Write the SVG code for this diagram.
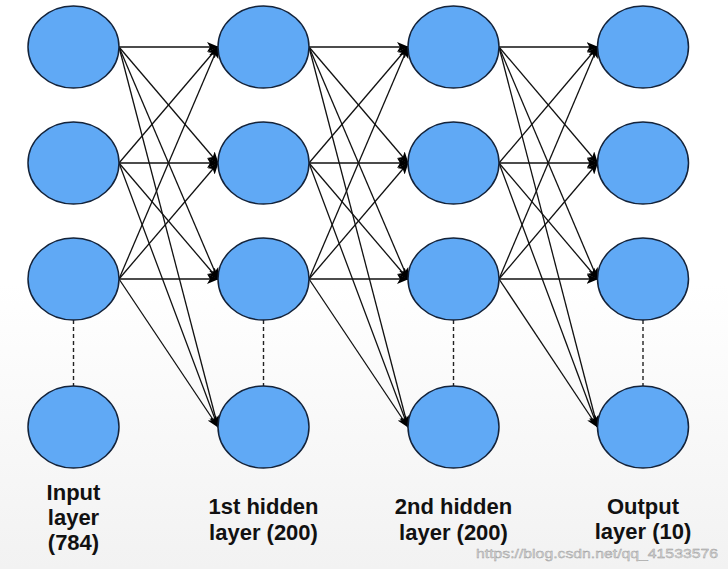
<svg xmlns="http://www.w3.org/2000/svg" width="728" height="569" viewBox="0 0 728 569">
<defs>
<style>
.node{fill:#60a9f5;stroke:#14233a;stroke-width:1.5}
.edge{stroke:#111;stroke-width:1.3;fill:none;marker-end:url(#arr)}
.dash{stroke:#222;stroke-width:1.4;stroke-dasharray:4 3;fill:none}
.lbl{font-family:"Liberation Sans",Arial,sans-serif;font-weight:bold;font-size:22px;fill:#111;text-anchor:middle}
.wm{font-family:"Liberation Sans",Arial,sans-serif;font-size:13.5px;fill:#d8d8d8;stroke:#9a9a9a;stroke-width:0.4}
</style>
<linearGradient id="bg" x1="0" y1="0" x2="0" y2="1">
<stop offset="0.5" stop-color="#ffffff"/>
<stop offset="1" stop-color="#f2f2f2"/>
</linearGradient>
<marker id="arr" markerUnits="userSpaceOnUse" markerWidth="12" markerHeight="10" viewBox="0 0 12 10" refX="11" refY="5" orient="auto">
<path d="M0,0 L12,5 L0,10 L3,5 z" fill="#000"/>
</marker>
</defs>
<rect x="0" y="0" width="728" height="569" fill="url(#bg)"/>
<g id="connectors">
<line class="edge" x1="119" y1="47" x2="218" y2="47"/>
<line class="edge" x1="119" y1="47" x2="218" y2="163"/>
<line class="edge" x1="119" y1="47" x2="218" y2="279"/>
<line class="edge" x1="119" y1="47" x2="218" y2="427"/>
<line class="edge" x1="119" y1="163" x2="218" y2="47"/>
<line class="edge" x1="119" y1="163" x2="218" y2="163"/>
<line class="edge" x1="119" y1="163" x2="218" y2="279"/>
<line class="edge" x1="119" y1="163" x2="218" y2="427"/>
<line class="edge" x1="119" y1="279" x2="218" y2="47"/>
<line class="edge" x1="119" y1="279" x2="218" y2="163"/>
<line class="edge" x1="119" y1="279" x2="218" y2="279"/>
<line class="edge" x1="119" y1="279" x2="218" y2="427"/>
<line class="edge" x1="309" y1="47" x2="408" y2="47"/>
<line class="edge" x1="309" y1="47" x2="408" y2="163"/>
<line class="edge" x1="309" y1="47" x2="408" y2="279"/>
<line class="edge" x1="309" y1="47" x2="408" y2="427"/>
<line class="edge" x1="309" y1="163" x2="408" y2="47"/>
<line class="edge" x1="309" y1="163" x2="408" y2="163"/>
<line class="edge" x1="309" y1="163" x2="408" y2="279"/>
<line class="edge" x1="309" y1="163" x2="408" y2="427"/>
<line class="edge" x1="309" y1="279" x2="408" y2="47"/>
<line class="edge" x1="309" y1="279" x2="408" y2="163"/>
<line class="edge" x1="309" y1="279" x2="408" y2="279"/>
<line class="edge" x1="309" y1="279" x2="408" y2="427"/>
<line class="edge" x1="499" y1="47" x2="597.5" y2="47"/>
<line class="edge" x1="499" y1="47" x2="597.5" y2="163"/>
<line class="edge" x1="499" y1="47" x2="597.5" y2="279"/>
<line class="edge" x1="499" y1="47" x2="597.5" y2="427"/>
<line class="edge" x1="499" y1="163" x2="597.5" y2="47"/>
<line class="edge" x1="499" y1="163" x2="597.5" y2="163"/>
<line class="edge" x1="499" y1="163" x2="597.5" y2="279"/>
<line class="edge" x1="499" y1="163" x2="597.5" y2="427"/>
<line class="edge" x1="499" y1="279" x2="597.5" y2="47"/>
<line class="edge" x1="499" y1="279" x2="597.5" y2="163"/>
<line class="edge" x1="499" y1="279" x2="597.5" y2="279"/>
<line class="edge" x1="499" y1="279" x2="597.5" y2="427"/>
<line class="dash" x1="73.5" y1="320" x2="73.5" y2="386"/>
<line class="dash" x1="263.5" y1="320" x2="263.5" y2="386"/>
<line class="dash" x1="453.5" y1="320" x2="453.5" y2="386"/>
<line class="dash" x1="643" y1="320" x2="643" y2="386"/>
</g>
<g id="input-layer">
<ellipse class="node" cx="73.5" cy="47" rx="45.5" ry="41"/>
<ellipse class="node" cx="73.5" cy="163" rx="45.5" ry="41"/>
<ellipse class="node" cx="73.5" cy="279" rx="45.5" ry="41"/>
<ellipse class="node" cx="73.5" cy="427" rx="45.5" ry="41"/>
</g>
<g id="hidden-layer-1">
<ellipse class="node" cx="263.5" cy="47" rx="45.5" ry="41"/>
<ellipse class="node" cx="263.5" cy="163" rx="45.5" ry="41"/>
<ellipse class="node" cx="263.5" cy="279" rx="45.5" ry="41"/>
<ellipse class="node" cx="263.5" cy="427" rx="45.5" ry="41"/>
</g>
<g id="hidden-layer-2">
<ellipse class="node" cx="453.5" cy="47" rx="45.5" ry="41"/>
<ellipse class="node" cx="453.5" cy="163" rx="45.5" ry="41"/>
<ellipse class="node" cx="453.5" cy="279" rx="45.5" ry="41"/>
<ellipse class="node" cx="453.5" cy="427" rx="45.5" ry="41"/>
</g>
<g id="output-layer">
<ellipse class="node" cx="643" cy="47" rx="45.5" ry="41"/>
<ellipse class="node" cx="643" cy="163" rx="45.5" ry="41"/>
<ellipse class="node" cx="643" cy="279" rx="45.5" ry="41"/>
<ellipse class="node" cx="643" cy="427" rx="45.5" ry="41"/>
</g>
<g id="labels">
<text class="lbl" x="73.5" y="500">Input</text>
<text class="lbl" x="73.5" y="525">layer</text>
<text class="lbl" x="73.5" y="550">(784)</text>
<text class="lbl" x="263.5" y="514">1st hidden</text>
<text class="lbl" x="263.5" y="540">layer (200)</text>
<text class="lbl" x="453.5" y="514">2nd hidden</text>
<text class="lbl" x="453.5" y="540">layer (200)</text>
<text class="lbl" x="643" y="514">Output</text>
<text class="lbl" x="643" y="539">layer (10)</text>
<text class="wm" x="476" y="558" textLength="242" lengthAdjust="spacingAndGlyphs">https://blog.csdn.net/qq_41533576</text>
</g>
</svg>
